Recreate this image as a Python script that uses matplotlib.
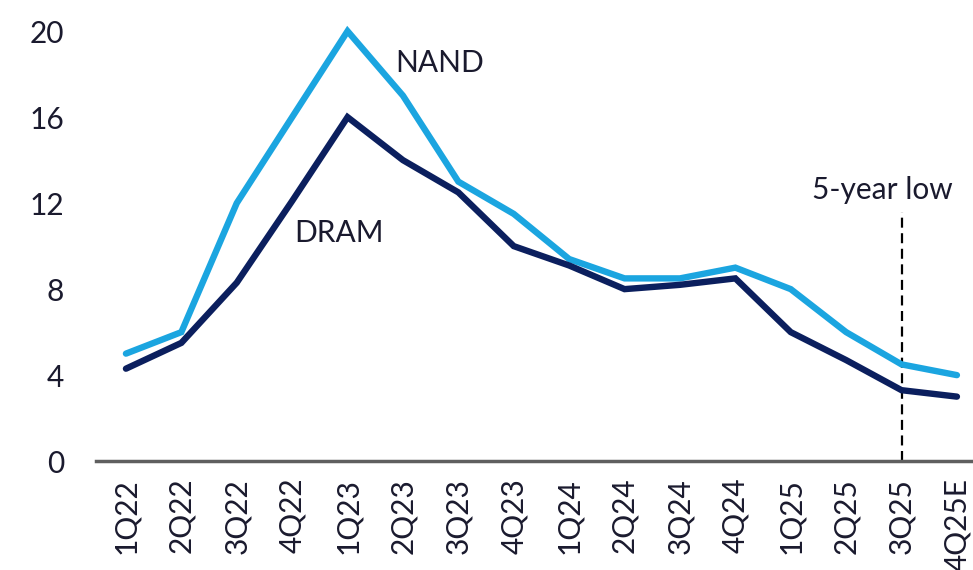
import numpy as np
import matplotlib
matplotlib.use("Agg")
import matplotlib.pyplot as plt

# quarters and values
quarters = ["1Q22", "2Q22", "3Q22", "4Q22", "1Q23", "2Q23", "3Q23", "4Q23",
            "1Q24", "2Q24", "3Q24", "4Q24", "1Q25", "2Q25", "3Q25", "4Q25E"]
nand = [5.0, 6.0, 12.0, 16.0, 20.0, 17.0, 13.0, 11.5,
        9.4, 8.5, 8.5, 9.0, 8.0, 6.0, 4.5, 4.0]
dram = [4.3, 5.5, 8.3, 12.1, 16.0, 14.0, 12.5, 10.0,
        9.1, 8.0, 8.2, 8.5, 6.0, 4.7, 3.3, 3.0]
yticks = [0, 4, 8, 12, 16, 20]
low_quarter = "3Q25"

plt.rcParams['font.family'] = ['Lato', 'DejaVu Sans']

nand_col = '#1BA5E0'
dram_col = '#0B1F5E'
txt_col = '#1a1a2e'
fs = 21.5

fig = plt.figure(figsize=(9.73, 5.70), dpi=100)
ax = fig.add_axes([0.0987, 0.191, 0.9013, 0.777])

x = np.arange(len(quarters))
ax.plot(x, nand, color=nand_col, lw=4.6, solid_capstyle='round', solid_joinstyle='miter', zorder=3)
ax.plot(x, dram, color=dram_col, lw=4.6, solid_capstyle='round', solid_joinstyle='miter', zorder=4)

# dashed marker for the 5-year low
ix = quarters.index(low_quarter)
ax.plot([ix, ix], [0, 11.6], color='black', lw=1.6, ls=(0, (4.5, 2.5)), zorder=2)

ax.text(5.67, 18.5, "NAND", fontsize=fs, color=txt_col, ha='center', va='center')
ax.text(3.84, 10.6, "DRAM", fontsize=fs, color=txt_col, ha='center', va='center')
ax.text(13.66, 12.6, "5-year low", fontsize=fs, color=txt_col, ha='center', va='center')

ax.set_xlim(-0.54, 15.29)
ax.set_ylim(0, 20.6)
ax.set_yticks(yticks)
ax.set_xticks(x)
ax.set_xticklabels(quarters, rotation=90)

for s in ['top', 'right', 'left']:
    ax.spines[s].set_visible(False)
ax.spines['bottom'].set_color('#5f5f5f')
ax.spines['bottom'].set_linewidth(2.5)

ax.tick_params(axis='y', length=0, pad=23, labelsize=fs, labelcolor=txt_col)
ax.tick_params(axis='x', length=0, pad=12, labelsize=fs, labelcolor=txt_col)

fig.savefig("out.png", dpi=100)
